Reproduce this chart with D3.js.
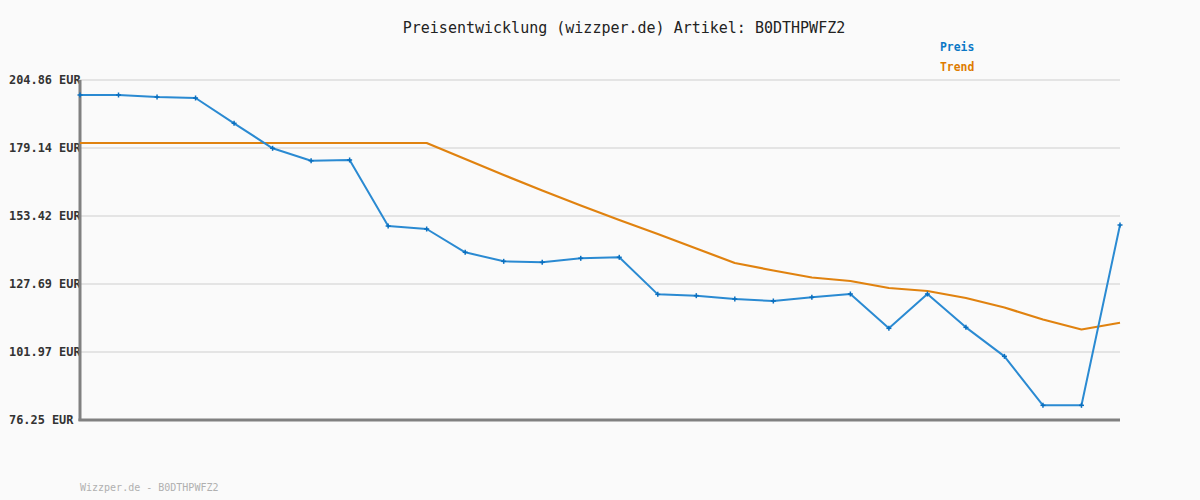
<!DOCTYPE html>
<html><head><meta charset="utf-8">
<script src="https://cdn.jsdelivr.net/npm/d3@7"></script>
<style>
html,body{margin:0;padding:0;background:#fafafa;}
svg{display:block;}
text{font-family:"DejaVu Sans Mono","Liberation Mono",monospace;}
</style></head>
<body>
<div id="chart"></div>
<script>
const titleText = "Preisentwicklung (wizzper.de) Artikel: B0DTHPWFZ2";
const footerText = "Wizzper.de - B0DTHPWFZ2";
const tickValues = [76.25, 101.97, 127.69, 153.42, 179.14, 204.86];
const tickLabels = ["76.25 EUR", "101.97 EUR", "127.69 EUR", "153.42 EUR", "179.14 EUR", "204.86 EUR"];
const seriesNames = ["Preis", "Trend"];
const preis = [199.19, 199.19, 198.43, 198.05, 188.48, 179.02, 174.33, 174.6, 149.63, 148.5,
  139.68, 136.27, 135.9, 137.41, 137.79, 123.78, 123.28, 122.02, 121.26, 122.65,
  123.91, 110.92, 123.91, 111.3, 100.33, 81.8, 81.8, 150.01];
const trend = [181.03, 181.03, 181.03, 181.03, 181.03, 181.03, 181.03, 181.03, 181.03, 181.03,
  174.98, 168.92, 163.06, 157.39, 151.9, 146.61, 141.12, 135.64, 132.8, 130.15,
  128.83, 126.18, 125.05, 122.4, 118.8, 114.26, 110.48, 113.05];

const W = 1200, H = 500;
const svg = d3.select("#chart").append("svg").attr("width", W).attr("height", H);
svg.append("rect").attr("width", W).attr("height", H).attr("fill", "#fafafa");

const idx = d3.range(preis.length);
const x = d3.scalePoint().domain(idx).range([80, 1120]);
const y = d3.scaleLinear().domain([76.25, 204.86]).range([420, 80]);

// grid
svg.append("g").selectAll("line").data(tickValues.slice(1)).join("line")
  .attr("x1", 80).attr("x2", 1120)
  .attr("y1", d => y(d)).attr("y2", d => y(d))
  .attr("stroke", "#e4e4e4").attr("stroke-width", 2);

// tick labels
svg.append("g").selectAll("text").data(tickValues).join("text")
  .attr("x", 9).attr("y", d => y(d)).attr("dy", "0.35em")
  .attr("font-size", "11.9px").attr("font-weight", "bold").attr("fill", "#333")
  .text((d, i) => tickLabels[i]);

// axes
svg.append("line").attr("x1", 80).attr("x2", 80).attr("y1", y(204.86)).attr("y2", 421)
  .attr("stroke", "#808080").attr("stroke-width", 3);
svg.append("line").attr("x1", 78.5).attr("x2", 1120).attr("y1", 420).attr("y2", 420)
  .attr("stroke", "#808080").attr("stroke-width", 3);

const line = d3.line().x((d, i) => x(i)).y(d => y(d));

svg.append("path").datum(trend).attr("d", line)
  .attr("fill", "none").attr("stroke", "#e0820f").attr("stroke-width", 2.2)
  .attr("stroke-linejoin", "round");

svg.append("path").datum(preis).attr("d", line)
  .attr("fill", "none").attr("stroke", "#2a8ad2").attr("stroke-width", 2)
  .attr("stroke-linejoin", "round");

// markers (small crosses)
const mk = svg.append("g").selectAll("g").data(preis).join("g")
  .attr("transform", (d, i) => `translate(${x(i)},${y(d)})`);
mk.append("line").attr("x1", -2.5).attr("x2", 2.5).attr("stroke", "#0a6fbf").attr("stroke-width", 1.5);
mk.append("line").attr("y1", -2.5).attr("y2", 2.5).attr("stroke", "#0a6fbf").attr("stroke-width", 1.5);

// title
svg.append("text").attr("x", 624).attr("y", 33).attr("text-anchor", "middle")
  .attr("font-size", "15px").attr("fill", "#222").text(titleText);

// legend
const legColors = ["#0b78c6", "#de7c00"];
svg.append("g").selectAll("text").data(seriesNames).join("text")
  .attr("x", 940).attr("y", (d, i) => 51 + i * 20)
  .attr("font-size", "11.4px").attr("font-weight", "bold")
  .attr("fill", (d, i) => legColors[i]).text(d => d);

// footer
svg.append("text").attr("x", 80).attr("y", 491)
  .attr("font-size", "10px").attr("fill", "#b0b0b0").text(footerText);
</script>
</body></html>
